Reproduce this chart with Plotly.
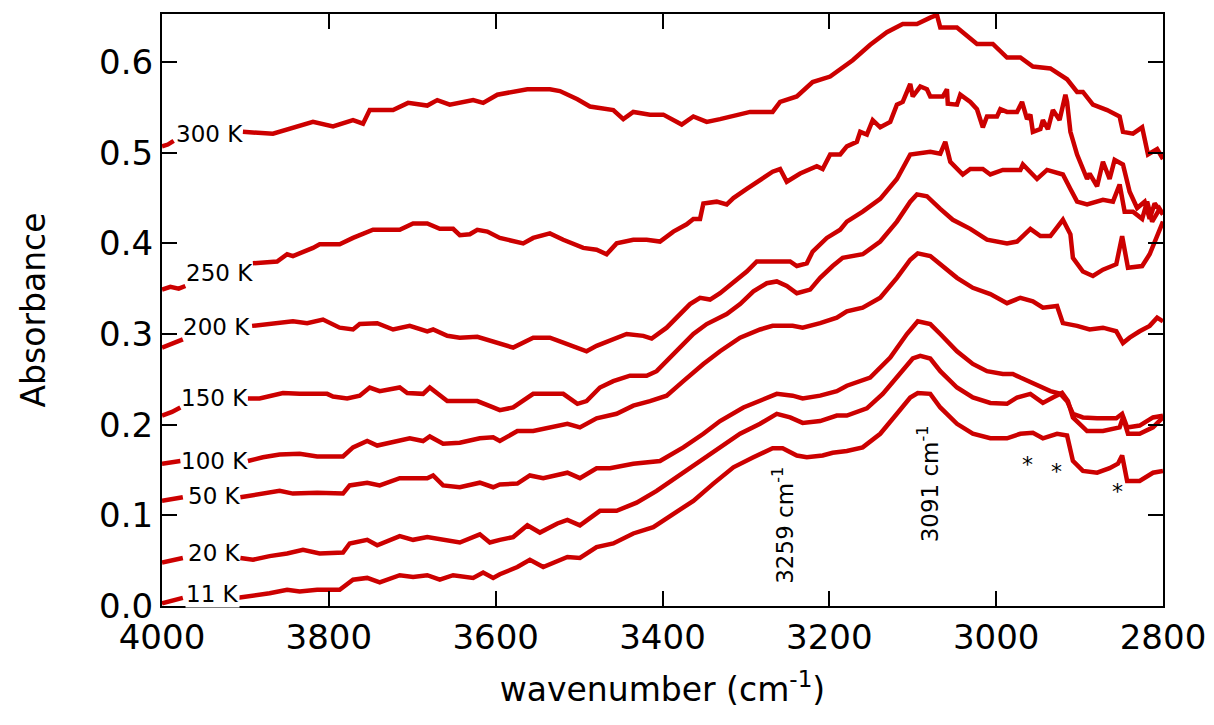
import plotly.graph_objects as go

# ---- data (wavenumber in cm^-1, absorbance) ----
temps = ["300 K", "250 K", "200 K", "150 K", "100 K", "50 K", "20 K", "11 K"]

stub_wn_300 = [4000, 3993, 3986]
stub_ab_300 = [0.507, 0.509, 0.513]
stub_wn_250 = [4000, 3990, 3980, 3972]
stub_ab_250 = [0.349, 0.352, 0.350, 0.353]
stub_wn_200 = [4000, 3988, 3975]
stub_ab_200 = [0.285, 0.289, 0.294]
stub_wn_150 = [4000, 3988, 3978]
stub_ab_150 = [0.210, 0.214, 0.219]
stub_wn_100 = [4000, 3988, 3978]
stub_ab_100 = [0.157, 0.158, 0.160]
stub_wn_50 = [4000, 3988, 3975]
stub_ab_50 = [0.116, 0.118, 0.120]
stub_wn_20 = [4000, 3988, 3975]
stub_ab_20 = [0.048, 0.050, 0.053]
stub_wn_11 = [4000, 3988, 3975]
stub_ab_11 = [0.003, 0.006, 0.009]

wn_300 = [3903,3867,3819,3795,3771,3759,3751,3723,3705,3682,3670,3655,3627,3615,3598,3562,3535,3523,3502,3487,
          3459,3447,3435,3415,3399,3377,3363,3347,3331,3295,3268,3259,3239,3220,3199,3172,3151,3131,3112,3095,
          3079,3071,3067,3047,3023,3004,2987,2971,2956,2935,2915,2903,2896,2884,2867,2852,2848,2836,2825,2818,
          2807,2800]
ab_300 = [0.523,0.521,0.534,0.529,0.536,0.532,0.547,0.547,0.555,0.552,0.558,0.553,0.558,0.555,0.564,0.570,0.570,0.568,0.559,0.551,
          0.547,0.537,0.545,0.542,0.542,0.531,0.540,0.534,0.537,0.545,0.545,0.556,0.562,0.578,0.584,0.602,0.619,0.633,0.642,0.642,
          0.649,0.652,0.638,0.638,0.620,0.620,0.605,0.605,0.595,0.593,0.581,0.567,0.567,0.553,0.547,0.540,0.523,0.521,0.528,0.498,
          0.504,0.493]

wn_250 = [3891,3862,3850,3843,3819,3811,3787,3771,3747,3715,3699,3682,3667,3651,3643,3631,3622,3610,3595,3579,
          3567,3555,3535,3519,3495,3479,3467,3455,3435,3419,3403,3387,3371,3363,3355,3351,3335,3323,3315,3299,
          3280,3268,3259,3251,3235,3215,3208,3199,3187,3179,3167,3163,3155,3148,3139,3127,3119,3112,3103,3100,
          3091,3083,3079,3064,3059,3058,3047,3043,3031,3023,3016,3011,2999,2995,2987,2975,2969,2963,2959,2956,
          2947,2944,2938,2932,2924,2917,2915,2911,2903,2891,2888,2879,2872,2864,2858,2848,2840,2831,2822,2816,
          2810,2800]
ab_250 = [0.378,0.380,0.388,0.386,0.395,0.399,0.399,0.406,0.415,0.415,0.422,0.422,0.416,0.416,0.409,0.410,0.415,0.413,0.406,0.402,
          0.400,0.406,0.411,0.404,0.395,0.393,0.388,0.400,0.404,0.404,0.402,0.413,0.421,0.427,0.427,0.444,0.446,0.443,0.450,0.460,
          0.471,0.479,0.482,0.468,0.477,0.485,0.482,0.498,0.498,0.507,0.512,0.523,0.520,0.536,0.528,0.534,0.553,0.556,0.576,0.562,
          0.573,0.570,0.562,0.562,0.570,0.554,0.553,0.564,0.556,0.548,0.528,0.540,0.540,0.548,0.545,0.545,0.556,0.537,0.542,0.523,
          0.526,0.536,0.526,0.547,0.536,0.564,0.556,0.523,0.498,0.471,0.477,0.463,0.490,0.471,0.492,0.487,0.457,0.439,0.446,0.427,
          0.444,0.432]

wn_200 = [3892,3867,3843,3826,3807,3787,3771,3763,3742,3723,3703,3682,3675,3658,3643,3622,3598,3579,3555,3535,
          3523,3502,3491,3479,3455,3443,3423,3413,3395,3379,3367,3355,3343,3331,3311,3299,3287,3263,3247,3239,
          3227,3220,3203,3187,3179,3160,3139,3119,3103,3079,3067,3061,3055,3040,3031,3016,3007,2992,2971,2968,
          2959,2951,2939,2920,2911,2903,2891,2879,2872,2860,2852,2846,2836,2825,2819,2813,2804,2800]
ab_200 = [0.309,0.311,0.314,0.312,0.316,0.307,0.305,0.311,0.312,0.305,0.309,0.303,0.305,0.298,0.296,0.297,0.290,0.285,0.296,0.296,
          0.292,0.285,0.281,0.287,0.296,0.300,0.298,0.295,0.307,0.322,0.333,0.340,0.338,0.345,0.360,0.369,0.380,0.380,0.380,0.375,
          0.378,0.391,0.406,0.415,0.424,0.435,0.449,0.471,0.498,0.501,0.499,0.512,0.490,0.476,0.482,0.482,0.476,0.481,0.481,0.487,
          0.479,0.471,0.481,0.476,0.460,0.446,0.443,0.446,0.448,0.446,0.465,0.435,0.435,0.427,0.446,0.424,0.438,0.432]

wn_150 = [3897,3883,3855,3835,3802,3795,3778,3763,3751,3739,3715,3706,3687,3679,3658,3622,3603,3595,3579,3555,
          3535,3519,3502,3491,3475,3459,3439,3419,3407,3395,3383,3363,3347,3323,3307,3291,3275,3263,3251,3239,
          3223,3211,3196,3184,3160,3139,3119,3103,3095,3083,3067,3052,3031,3011,2987,2975,2959,2947,2935,2920,
          2911,2908,2896,2884,2872,2856,2849,2842,2825,2816,2800]
ab_150 = [0.229,0.229,0.235,0.234,0.234,0.231,0.229,0.232,0.241,0.237,0.241,0.235,0.234,0.241,0.226,0.226,0.219,0.216,0.219,0.234,
          0.234,0.234,0.223,0.226,0.241,0.248,0.254,0.254,0.259,0.270,0.281,0.300,0.311,0.322,0.333,0.347,0.356,0.358,0.353,0.345,
          0.349,0.362,0.375,0.384,0.388,0.402,0.424,0.446,0.454,0.452,0.438,0.426,0.416,0.404,0.400,0.402,0.416,0.408,0.408,0.426,
          0.410,0.384,0.369,0.364,0.371,0.377,0.408,0.373,0.375,0.388,0.424]

wn_100 = [3897,3879,3859,3835,3814,3783,3771,3754,3742,3715,3703,3687,3679,3663,3643,3619,3603,3595,3574,3555,
          3535,3514,3499,3479,3455,3435,3415,3395,3375,3351,3331,3307,3283,3268,3244,3232,3211,3191,3179,3160,
          3139,3119,3103,3094,3079,3067,3047,3028,3007,2987,2971,2956,2944,2927,2920,2903,2888,2872,2856,2848,
          2840,2828,2816,2807,2800]
ab_100 = [0.160,0.164,0.167,0.168,0.165,0.165,0.175,0.182,0.177,0.182,0.185,0.182,0.187,0.179,0.180,0.185,0.186,0.182,0.193,0.193,
          0.197,0.201,0.197,0.207,0.212,0.221,0.226,0.232,0.248,0.267,0.281,0.296,0.305,0.309,0.309,0.307,0.312,0.318,0.325,0.329,
          0.340,0.362,0.382,0.389,0.386,0.377,0.362,0.351,0.344,0.334,0.340,0.336,0.329,0.331,0.312,0.309,0.305,0.307,0.303,0.290,
          0.296,0.303,0.309,0.318,0.314]

wn_50 = [3906,3883,3859,3843,3814,3783,3775,3754,3739,3715,3682,3675,3663,3643,3619,3603,3595,3574,3559,3543,
         3514,3499,3479,3463,3435,3403,3375,3351,3331,3303,3283,3263,3244,3232,3211,3191,3179,3151,3127,3107,
         3094,3079,3067,3047,3028,3011,2992,2980,2971,2951,2935,2923,2915,2908,2896,2879,2856,2849,2843,2828,
         2812,2800]
ab_50 = [0.120,0.124,0.127,0.124,0.125,0.124,0.133,0.136,0.133,0.141,0.141,0.144,0.133,0.131,0.136,0.131,0.134,0.135,0.144,0.141,
         0.147,0.141,0.152,0.152,0.157,0.160,0.175,0.190,0.204,0.219,0.226,0.234,0.232,0.229,0.232,0.237,0.243,0.252,0.274,0.300,
         0.314,0.311,0.300,0.281,0.267,0.259,0.256,0.256,0.252,0.243,0.237,0.234,0.226,0.212,0.208,0.207,0.207,0.212,0.197,0.199,
         0.208,0.210]

wn_20 = [3906,3891,3871,3850,3831,3811,3783,3775,3754,3742,3715,3699,3682,3663,3643,3619,3607,3595,3579,3562,
         3547,3526,3514,3499,3475,3455,3431,3407,3383,3355,3331,3307,3283,3263,3247,3232,3211,3191,3179,3155,
         3136,3115,3100,3091,3079,3067,3047,3028,3007,2987,2975,2959,2944,2932,2921,2914,2908,2891,2872,2852,
         2848,2842,2828,2812,2800]
ab_20 = [0.053,0.051,0.055,0.058,0.062,0.058,0.059,0.069,0.073,0.067,0.077,0.073,0.076,0.073,0.070,0.079,0.070,0.073,0.076,0.089,
         0.081,0.091,0.095,0.089,0.105,0.105,0.114,0.127,0.142,0.160,0.174,0.190,0.201,0.212,0.208,0.202,0.204,0.210,0.210,0.218,
         0.234,0.256,0.273,0.276,0.273,0.259,0.241,0.230,0.224,0.223,0.230,0.234,0.224,0.230,0.235,0.226,0.208,0.193,0.193,0.197,
         0.208,0.190,0.190,0.197,0.208]

wn_11 = [3909,3886,3871,3850,3835,3814,3787,3771,3754,3739,3715,3699,3682,3667,3651,3627,3615,3603,3595,3574,
         3559,3543,3514,3499,3479,3459,3435,3411,3387,3363,3339,3315,3291,3268,3256,3239,3227,3208,3196,3179,
         3160,3139,3119,3103,3094,3079,3067,3047,3028,3007,2987,2971,2956,2944,2927,2915,2908,2896,2879,2864,
         2854,2849,2843,2828,2812,2800]
ab_11 = [0.009,0.012,0.014,0.018,0.016,0.018,0.018,0.029,0.031,0.026,0.034,0.032,0.034,0.029,0.034,0.031,0.037,0.031,0.035,0.043,
         0.051,0.043,0.054,0.053,0.065,0.069,0.080,0.087,0.102,0.116,0.135,0.153,0.164,0.174,0.174,0.166,0.164,0.166,0.169,0.171,
         0.175,0.190,0.212,0.230,0.235,0.234,0.219,0.201,0.190,0.185,0.185,0.190,0.191,0.185,0.190,0.188,0.160,0.149,0.147,0.152,
         0.157,0.166,0.138,0.138,0.147,0.149]

# label anchor positions (data coords)
label_x = [3985, 3972, 3976, 3979, 3979, 3970, 3970, 3972]
label_y = [0.521, 0.367, 0.308, 0.229, 0.160, 0.121, 0.059, 0.013]

peak_labels = ["3259 cm<sup>-1</sup>", "3091 cm<sup>-1</sup>"]
peak_x = [3255, 3082]
peak_y = [0.089, 0.135]

star_x = [2963, 2928, 2855]
star_y = [0.156, 0.148, 0.126]

stubs_wn = [stub_wn_300, stub_wn_250, stub_wn_200, stub_wn_150, stub_wn_100, stub_wn_50, stub_wn_20, stub_wn_11]
stubs_ab = [stub_ab_300, stub_ab_250, stub_ab_200, stub_ab_150, stub_ab_100, stub_ab_50, stub_ab_20, stub_ab_11]
mains_wn = [wn_300, wn_250, wn_200, wn_150, wn_100, wn_50, wn_20, wn_11]
mains_ab = [ab_300, ab_250, ab_200, ab_150, ab_100, ab_50, ab_20, ab_11]

RED = "#cc0000"
FONT = "DejaVu Sans"

fig = go.Figure()
for t, sw, sa, mw, ma in zip(temps, stubs_wn, stubs_ab, mains_wn, mains_ab):
    fig.add_trace(go.Scatter(
        x=sw + [None] + mw, y=sa + [None] + ma, mode="lines", name=t,
        line=dict(color=RED, width=4.5), connectgaps=False, showlegend=False,
        hoverinfo="skip"))

for t, lx, ly in zip(temps, label_x, label_y):
    fig.add_annotation(x=lx, y=ly, text=t, showarrow=False, xanchor="left", yanchor="middle",
                       font=dict(family=FONT, size=23, color="black"),
                       bgcolor="white" if t == "11 K" else "rgba(0,0,0,0)", borderpad=0)

for t, px, py in zip(peak_labels, peak_x, peak_y):
    fig.add_annotation(x=px, y=py, text=t, showarrow=False, textangle=-90,
                       font=dict(family=FONT, size=23, color="black"))

for sx, sy in zip(star_x, star_y):
    fig.add_annotation(x=sx, y=sy, text="*", showarrow=False,
                       font=dict(family=FONT, size=22, color="black"))

axis_common = dict(showline=True, linecolor="black", linewidth=2, mirror="ticks",
                   ticks="inside", ticklen=15, tickwidth=2, tickcolor="black",
                   showgrid=False, zeroline=False,
                   tickfont=dict(family=FONT, size=34, color="black"))

fig.update_xaxes(range=[4000, 2800], dtick=200, tick0=2800,
                 title=dict(text="wavenumber (cm<sup>-1</sup>)", font=dict(family=FONT, size=33, color="black"),
                            standoff=22),
                 **axis_common)
fig.update_yaxes(range=[0, 0.653], dtick=0.1, tick0=0, tickformat=".1f",
                 title=dict(text="Absorbance", font=dict(family=FONT, size=33, color="black"), standoff=44),
                 **axis_common)

# page body has an 8 px margin, so the figure is made 8 px smaller on each axis
fig.update_layout(width=1206, height=717, margin=dict(l=154, r=51, t=4, b=119),
                  plot_bgcolor="white", paper_bgcolor="white", showlegend=False)

fig.write_html("out.html")
